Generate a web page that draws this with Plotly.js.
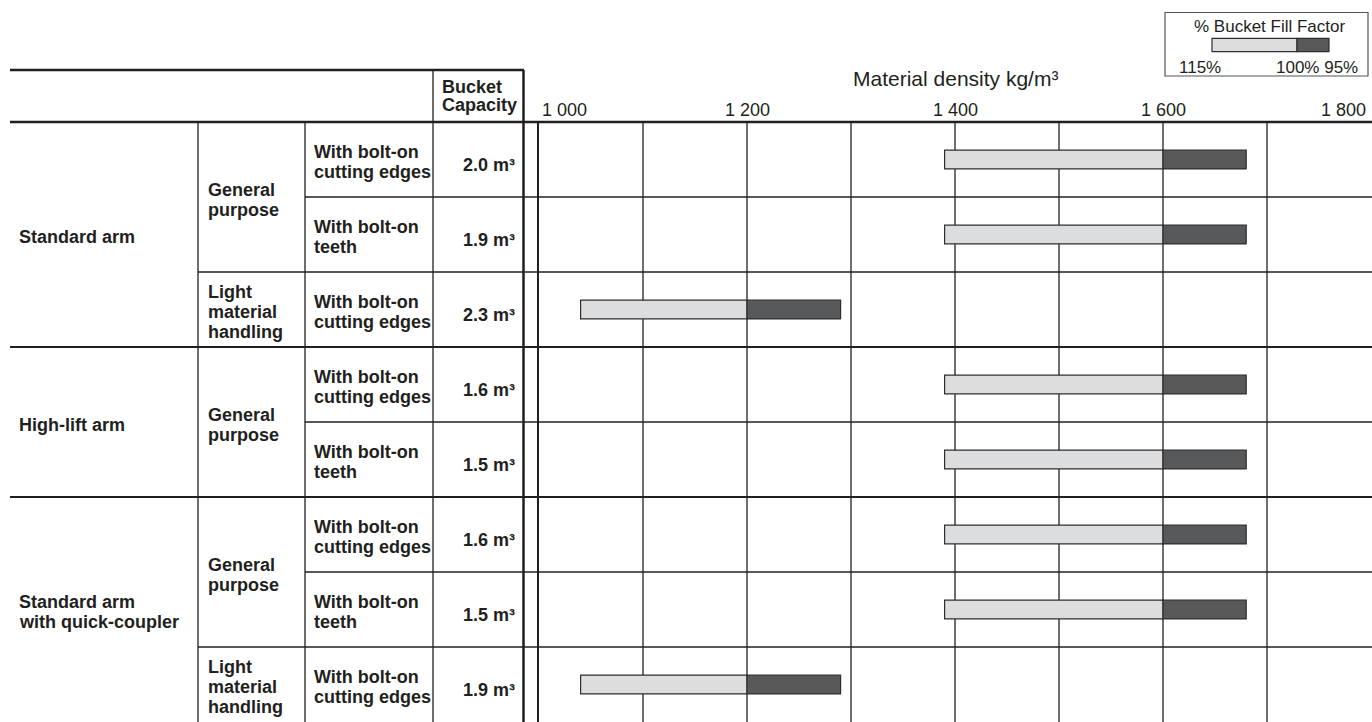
<!DOCTYPE html>
<html><head><meta charset="utf-8">
<script src="https://cdn.plot.ly/plotly-3.0.1.min.js"></script>
<style>html,body{margin:0;padding:0;background:#fff;overflow:hidden}</style>
</head><body><div id="chart" style="width:1372px;height:722px"></div>
<script>
// ---- data ----
const arms = ["Standard arm","Standard arm","Standard arm","High-lift arm","High-lift arm",
  "Standard arm\nwith quick-coupler","Standard arm\nwith quick-coupler","Standard arm\nwith quick-coupler"];
const uses = ["General\npurpose","General\npurpose","Light\nmaterial\nhandling","General\npurpose","General\npurpose",
  "General\npurpose","General\npurpose","Light\nmaterial\nhandling"];
const edges = ["With bolt-on\ncutting edges","With bolt-on\nteeth","With bolt-on\ncutting edges","With bolt-on\ncutting edges",
  "With bolt-on\nteeth","With bolt-on\ncutting edges","With bolt-on\nteeth","With bolt-on\ncutting edges"];
const capacity = ["2.0 m³","1.9 m³","2.3 m³","1.6 m³","1.5 m³","1.6 m³","1.5 m³","1.9 m³"];
const fill115 = [1390,1390,1040,1390,1390,1390,1390,1040];
const fill100 = [1600,1600,1200,1600,1600,1600,1600,1200];
const fill95  = [1680,1680,1290,1680,1680,1680,1680,1290];
const tickVals = [1000,1200,1400,1600,1800];
const tickText = ["1 000","1 200","1 400","1 600","1 800"];
const headerText = "Bucket\nCapacity";
const axisTitle = "Material density kg/m³";
const legendTitle = "% Bucket Fill Factor";
const legendLeft = "115%";
const legendRight = "100% 95%";

// ---- geometry helpers (page pixels -> paper) ----
const FW = 1372, FH = 722, ML = 539, MR = 1, MT = 122, MB = 0;
const PW = FW - ML - MR, PH = FH - MT - MB;
const X = px => (px - ML) / PW;
const Y = py => (FH - MB - py) / PH;
const ink = '#231f20';
const lightCol = '#dcdddf', darkCol = '#58595b', barLine = '#2e2e2e';
const FONT = 'Liberation Sans, Arial, sans-serif';

const rows = arms.map((_, i) => i);

const traces = [
  {type:'bar', orientation:'h', y: rows, base: fill115,
   x: fill100.map((v,i) => v - fill115[i]), width: 0.25,
   marker:{color: lightCol, line:{color: barLine, width: 1.2}}, hoverinfo:'skip'},
  {type:'bar', orientation:'h', y: rows, base: fill100,
   x: fill95.map((v,i) => v - fill100[i]), width: 0.25,
   marker:{color: darkCol, line:{color: barLine, width: 1.2}}, hoverinfo:'skip'}
];

const annotations = [];
const shapes = [];

function multiLine(text, xPaper, yRow, anchor, size, bold, extraShift) {
  const lines = text.split('\n');
  const n = lines.length;
  lines.forEach((ln, i) => {
    const off = (extraShift || 2.5) + (i - (n - 1) / 2) * 20;
    annotations.push({xref:'paper', yref:'y', x: xPaper, y: yRow, yshift: -off,
      xanchor: anchor, yanchor:'middle', showarrow:false,
      text: ln, font:{family: FONT, size: size, color: ink, weight: bold ? 700 : 400}});
  });
}

// column spans
function spans(keyFn) {
  const out = []; let start = 0;
  for (let i = 1; i <= rows.length; i++) {
    if (i === rows.length || keyFn(i) !== keyFn(start)) { out.push([start, i - 1]); start = i; }
  }
  return out;
}
spans(i => arms[i]).forEach(([a,b]) => multiLine(arms[a], X(17), (a+b)/2, 'left', 18, true));
spans(i => arms[i] + '|' + uses[i]).forEach(([a,b]) => multiLine(uses[a], X(206), (a+b)/2, 'left', 18, true));
rows.forEach(i => multiLine(edges[i], X(312), i, 'left', 18, true));
rows.forEach(i => multiLine(capacity[i], X(516.5), i, 'right', 18, true, 5.5));

// header
headerText.split('\n').forEach((ln, i) => annotations.push({xref:'paper', yref:'paper', x: X(440), y: Y(86.5 + i*19),
  xanchor:'left', yanchor:'middle', showarrow:false, text: ln, font:{family: FONT, size: 18, color: ink, weight: 700}}));

// axis title and tick labels
annotations.push({xref:'x', yref:'paper', x: 1400, y: Y(78), xanchor:'center', yanchor:'middle', showarrow:false,
  text: axisTitle, font:{family: FONT, size: 21, color: ink}});
tickVals.forEach((v, i) => {
  const last = i === tickVals.length - 1, first = i === 0;
  annotations.push({xref:'x', yref:'paper', x: v, y: Y(109.7),
    xanchor: first ? 'left' : (last ? 'right' : 'center'), xshift: first ? 1 : (last ? -3 : 0),
    yanchor:'middle', showarrow:false, text: tickText[i], font:{family: FONT, size: 18, color: ink}});
});

// legend box
shapes.push({type:'rect', xref:'paper', yref:'paper', x0: X(1165), x1: X(1368), y0: Y(76), y1: Y(12.5),
  line:{color:'#555', width:1.2}, fillcolor:'rgba(0,0,0,0)'});
shapes.push({type:'rect', xref:'paper', yref:'paper', x0: X(1212), x1: X(1297), y0: Y(51.7), y1: Y(38.3),
  line:{color: barLine, width:1.2}, fillcolor: lightCol});
shapes.push({type:'rect', xref:'paper', yref:'paper', x0: X(1297), x1: X(1329), y0: Y(51.7), y1: Y(38.3),
  line:{color: barLine, width:1.2}, fillcolor: darkCol});
annotations.push({xref:'paper', yref:'paper', x: X(1269), y: Y(26.7), xanchor:'center', yanchor:'middle', showarrow:false,
  text: legendTitle, font:{family: FONT, size: 17, color: ink}});
annotations.push({xref:'paper', yref:'paper', x: X(1177), y: Y(67.5), xanchor:'left', yanchor:'middle', showarrow:false,
  text: legendLeft, font:{family: FONT, size: 17, color: ink}});
annotations.push({xref:'paper', yref:'paper', x: X(1359.5), y: Y(67.5), xanchor:'right', yanchor:'middle', showarrow:false,
  text: legendRight, font:{family: FONT, size: 17, color: ink}});

// table lines
function hline(py, x0, x1, w) {
  shapes.push({type:'line', xref:'paper', yref:'paper', x0: X(x0), x1: X(x1), y0: Y(py), y1: Y(py),
    line:{color: ink, width: w}});
}
function hlineRow(yRow, x0, w) {
  shapes.push({type:'line', xref:'paper', yref:'y', x0: X(x0), x1: X(FW), y0: yRow, y1: yRow,
    line:{color: ink, width: w}});
}
function vline(px, py0, py1, w) {
  shapes.push({type:'line', xref:'paper', yref:'paper', x0: X(px), x1: X(px), y0: Y(py0), y1: Y(py1),
    line:{color: ink, width: w}});
}
hline(70, 10, 524, 2.5);
hline(122, 10, FW, 2.5);
for (let i = 1; i < rows.length; i++) {
  const y = i - 0.5;
  if (arms[i] !== arms[i-1]) hlineRow(y, 10, 2.2);
  else if (uses[i] !== uses[i-1] || uses[i].startsWith('Light')) hlineRow(y, 198, 1.3);
  else hlineRow(y, 305, 1.3);
}
vline(198, 122, FH, 1.3);
vline(305, 122, FH, 1.3);
vline(433, 70, FH, 1.3);
vline(523.5, 70, FH, 2.5);

const layout = {
  width: FW, height: FH, autosize: false,
  margin: {l: ML, r: MR, t: MT, b: MB, pad: 0},
  paper_bgcolor: '#fff', plot_bgcolor: '#fff',
  showlegend: false, barmode: 'overlay',
  xaxis: {range: [1000, 1800], tick0: 1000, dtick: 100, showgrid: true, gridcolor: '#6e6e6e', gridwidth: 1.3,
    showticklabels: false, zeroline: false, showline: false, ticks: '', fixedrange: true},
  yaxis: {range: [rows.length - 0.5, -0.5], showgrid: false, zeroline: false, showticklabels: false,
    showline: true, linecolor: ink, linewidth: 2, ticks: '', fixedrange: true},
  annotations: annotations, shapes: shapes,
  font: {family: FONT, color: ink}
};
Plotly.newPlot('chart', traces, layout, {displayModeBar: false, staticPlot: true});
</script></body></html>
